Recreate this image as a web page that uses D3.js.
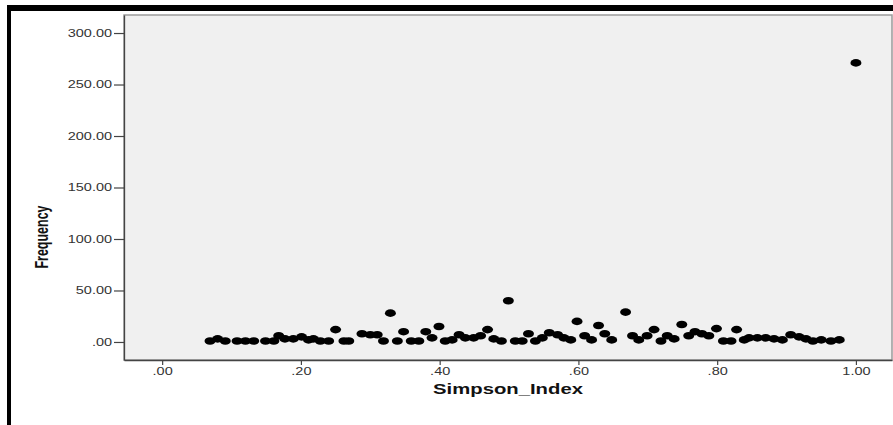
<!DOCTYPE html>
<html>
<head>
<meta charset="utf-8">
<script src="https://cdn.jsdelivr.net/npm/d3@7"></script>
<style>
  html, body { margin: 0; padding: 0; background: #ffffff; }
  svg { display: block; }
  text { font-family: "Liberation Sans", Arial, sans-serif; }
</style>
</head>
<body>
<script>
// ---- data ----
const simpsonIndex = [
  0.069, 0.080, 0.091, 0.108, 0.120, 0.132, 0.149, 0.161, 0.168, 0.177,
  0.189, 0.201, 0.211, 0.218, 0.228, 0.240, 0.250, 0.262, 0.269, 0.288,
  0.300, 0.310, 0.319, 0.329, 0.339, 0.348, 0.359, 0.370, 0.380, 0.389,
  0.399, 0.408, 0.418, 0.428, 0.437, 0.449, 0.459, 0.469, 0.478, 0.489,
  0.499, 0.509, 0.519, 0.528, 0.538, 0.548, 0.558, 0.570, 0.579, 0.589,
  0.598, 0.609, 0.619, 0.629, 0.638, 0.648, 0.668, 0.678, 0.687, 0.699,
  0.709, 0.719, 0.728, 0.738, 0.749, 0.759, 0.768, 0.778, 0.788, 0.799,
  0.809, 0.820, 0.828, 0.839, 0.846, 0.858, 0.870, 0.882, 0.894, 0.906,
  0.918, 0.928, 0.938, 0.950, 0.964, 0.976, 1.000
];
const frequency = [
  1, 3, 1, 1, 1, 1, 1, 1, 6, 3,
  3, 5, 2, 3, 1, 1, 12, 1, 1, 8,
  7, 7, 1, 28, 1, 10, 1, 1, 10, 4,
  15, 1, 2, 7, 4, 4, 6, 12, 3, 1,
  40, 1, 1, 8, 1, 4, 9, 7, 4, 2,
  20, 6, 2, 16, 8, 2, 29, 6, 2, 6,
  12, 1, 6, 3, 17, 6, 10, 8, 6, 13,
  1, 1, 12, 2, 4, 4, 4, 3, 2, 7,
  5, 3, 1, 2, 1, 2, 271
];
const xTicks = [0, 0.2, 0.4, 0.6, 0.8, 1.0];
const xTickLabels = [".00", ".20", ".40", ".60", ".80", "1.00"];
const yTicks = [0, 50, 100, 150, 200, 250, 300];
const yTickLabels = [".00", "50.00", "100.00", "150.00", "200.00", "250.00", "300.00"];
const xTitle = "Simpson_Index";
const yTitle = "Frequency";

// ---- layout ----
const W = 893, H = 425;
const plot = { left: 124, right: 892, top: 15, bottom: 360 };
const SX = 1.45; // horizontal stretch of the text in the reference

const svg = d3.select("body").append("svg").attr("width", W).attr("height", H);

// outer frame (black bars)
svg.append("rect").attr("x", 7).attr("y", 5).attr("width", W - 7).attr("height", 6).attr("fill", "#000");
svg.append("rect").attr("x", 7).attr("y", 5).attr("width", 4).attr("height", H - 5).attr("fill", "#000");

const x = d3.scaleLinear().domain([-0.055, 1.052]).range([plot.left, plot.right]);
const y = d3.scaleLinear().domain([-17.5, 317.5]).range([plot.bottom, plot.top]);

// plot background
svg.append("rect")
  .attr("x", plot.left).attr("y", plot.top)
  .attr("width", plot.right - plot.left).attr("height", plot.bottom - plot.top)
  .attr("fill", "#f0f0f0").attr("stroke", "#9a9a9a").attr("stroke-width", 1.5);

// y axis
const yAxis = d3.axisLeft(y).tickValues(yTicks)
  .tickFormat((d, i) => yTickLabels[i]).tickSize(10).tickSizeOuter(0).tickPadding(2);
const gy = svg.append("g").attr("transform", `translate(${plot.left},0)`).call(yAxis);
gy.select(".domain").attr("stroke", "#444").attr("stroke-width", 1.3);
gy.selectAll(".tick line").attr("stroke", "#444").attr("stroke-width", 1.2);
gy.selectAll(".tick text")
  .attr("font-size", 10).attr("fill", "#333")
  .attr("x", -12 / SX).attr("transform", `scale(${SX},1)`);

// x axis
const xAxis = d3.axisBottom(x).tickValues(xTicks)
  .tickFormat((d, i) => xTickLabels[i]).tickSize(5).tickSizeOuter(0).tickPadding(3);
const gx = svg.append("g").attr("transform", `translate(0,${plot.bottom})`).call(xAxis);
gx.select(".domain").attr("stroke", "#444").attr("stroke-width", 1.3);
gx.selectAll(".tick line").attr("stroke", "#444").attr("stroke-width", 1.2);
gx.selectAll(".tick text")
  .attr("font-size", 10).attr("fill", "#333")
  .attr("transform", `scale(${SX},1)`);

// points
svg.append("g").selectAll("ellipse")
  .data(simpsonIndex.map((v, i) => ({ v, f: frequency[i] })))
  .join("ellipse")
  .attr("cx", d => x(d.v)).attr("cy", d => y(d.f))
  .attr("rx", 5.5).attr("ry", 3.8)
  .attr("fill", "#000");

// axis titles
svg.append("text")
  .attr("transform", `translate(${(plot.left + plot.right) / 2},394) scale(${SX},1)`)
  .attr("text-anchor", "middle").attr("font-size", 14).attr("font-weight", "bold")
  .attr("fill", "#111").text(xTitle);

svg.append("text")
  .attr("transform", `translate(48,237) scale(${SX},1) rotate(-90)`)
  .attr("text-anchor", "middle").attr("font-size", 12.5).attr("font-weight", "bold")
  .attr("fill", "#111").text(yTitle);
</script>
</body>
</html>
